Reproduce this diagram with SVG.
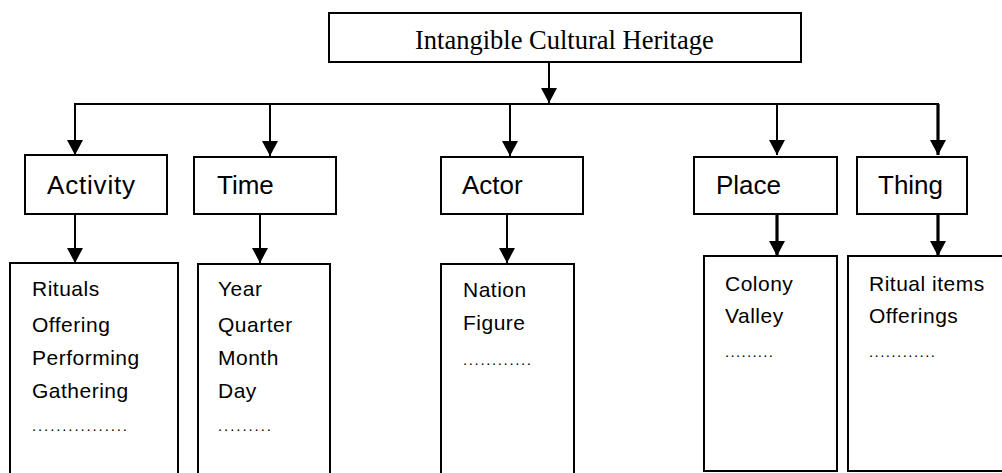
<svg xmlns="http://www.w3.org/2000/svg" width="1002" height="473" viewBox="0 0 1002 473">
  <style>
    .box { fill: #fff; stroke: #000; stroke-width: 2; }
    .title { font-family: "Liberation Serif", "Times New Roman", serif; font-size: 26.5px; fill: #000; }
    .label { font-family: "Liberation Sans", Arial, sans-serif; font-size: 26px; fill: #000; }
    .item { font-family: "Liberation Sans", Arial, sans-serif; font-size: 21px; letter-spacing: 0.5px; fill: #000; }
    .dots { font-family: "Liberation Sans", Arial, sans-serif; font-size: 15px; fill: #000; }
    .link { stroke: #000; stroke-width: 2; fill: none; }
    .thick { stroke-width: 3.2; }
  </style>
  <defs>
    <marker id="head" viewBox="0 0 15 16" refX="15" refY="8" markerWidth="15" markerHeight="16" markerUnits="userSpaceOnUse" orient="auto">
      <path d="M0,0 L15,8 L0,16 z" fill="#000"/>
    </marker>
  </defs>
  <rect width="1002" height="473" fill="#fff"/>

  <!-- connectors -->
  <g id="connectors">
    <line class="link" x1="549" y1="62" x2="549" y2="103" marker-end="url(#head)"/>
    <line class="link" x1="74" y1="104" x2="939" y2="104"/>
    <line class="link" x1="75" y1="104" x2="75" y2="155" marker-end="url(#head)"/>
    <line class="link" x1="270" y1="104" x2="270" y2="156" marker-end="url(#head)"/>
    <line class="link" x1="510" y1="104" x2="510" y2="156" marker-end="url(#head)"/>
    <line class="link" x1="777" y1="104" x2="777" y2="155" marker-end="url(#head)"/>
    <line class="link thick" x1="938" y1="104" x2="938" y2="155" marker-end="url(#head)"/>
    <line class="link" x1="75" y1="214" x2="75" y2="263" marker-end="url(#head)"/>
    <line class="link" x1="260" y1="214" x2="260" y2="263" marker-end="url(#head)"/>
    <line class="link" x1="507" y1="214" x2="507" y2="263" marker-end="url(#head)"/>
    <line class="link thick" x1="777" y1="214" x2="777" y2="256" marker-end="url(#head)"/>
    <line class="link thick" x1="938" y1="214" x2="938" y2="256" marker-end="url(#head)"/>
  </g>

  <!-- root -->
  <g id="heritage">
    <rect class="box" x="329" y="13" width="472" height="49"/>
    <text class="title" x="415" y="49">Intangible Cultural Heritage</text>
  </g>

  <!-- categories -->
  <g id="activity">
    <rect class="box" x="25" y="155" width="142" height="59"/>
    <text class="label" x="47" y="194" textLength="88">Activity</text>
  </g>
  <g id="time">
    <rect class="box" x="194" y="157" width="142" height="57"/>
    <text class="label" x="217" y="194">Time</text>
  </g>
  <g id="actor">
    <rect class="box" x="441" y="157" width="142" height="57"/>
    <text class="label" x="462" y="194">Actor</text>
  </g>
  <g id="place">
    <rect class="box" x="694" y="157" width="143" height="57"/>
    <text class="label" x="716" y="194">Place</text>
  </g>
  <g id="thing">
    <rect class="box" x="857" y="157" width="110" height="57"/>
    <text class="label" x="878" y="194">Thing</text>
  </g>

  <!-- item lists -->
  <g id="activity-items">
    <rect class="box" x="10" y="263" width="168" height="220"/>
    <text class="item" x="32" y="296">Rituals</text>
    <text class="item" x="32" y="332">Offering</text>
    <text class="item" x="32" y="365">Performing</text>
    <text class="item" x="32" y="398">Gathering</text>
    <text class="dots" x="32" y="431" textLength="95">................</text>
  </g>
  <g id="time-items">
    <rect class="box" x="198" y="264" width="132" height="220"/>
    <text class="item" x="218" y="296">Year</text>
    <text class="item" x="218" y="332">Quarter</text>
    <text class="item" x="218" y="365">Month</text>
    <text class="item" x="218" y="398">Day</text>
    <text class="dots" x="218" y="431" textLength="53">.........</text>
  </g>
  <g id="actor-items">
    <rect class="box" x="441" y="264" width="133" height="220"/>
    <text class="item" x="463" y="297">Nation</text>
    <text class="item" x="463" y="330">Figure</text>
    <text class="dots" x="463" y="365" textLength="68">............</text>
  </g>
  <g id="place-items">
    <rect class="box" x="704" y="256" width="133" height="215"/>
    <text class="item" x="725" y="291">Colony</text>
    <text class="item" x="725" y="323">Valley</text>
    <text class="dots" x="725" y="357" textLength="48">.........</text>
  </g>
  <g id="thing-items">
    <rect class="box" x="848" y="256" width="160" height="215"/>
    <text class="item" x="869" y="291">Ritual items</text>
    <text class="item" x="869" y="323">Offerings</text>
    <text class="dots" x="869" y="357" textLength="66">............</text>
  </g>
</svg>
